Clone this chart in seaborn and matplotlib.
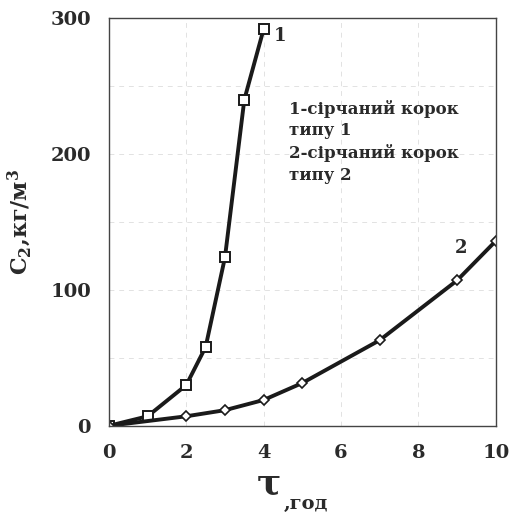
import pandas as pd
import matplotlib.pyplot as plt
import seaborn as sns

# Data
tau_1 = [0, 1, 2, 2.5, 3, 3.5, 4]
c2_1 = [0, 7, 30, 58, 124, 240, 292]

tau_2 = [0, 2, 3, 4, 5, 7, 9, 10]
c2_2 = [0, 7, 11.5, 19, 31.5, 63, 107, 136]

x_ticks = [0, 2, 4, 6, 8, 10]
y_ticks = [0, 100, 200, 300]

legend_text = "1-сірчаний корок\nтипу 1\n2-сірчаний корок\nтипу 2"

sns.set_style("white")
plt.rcParams['font.family'] = ['DejaVu Serif']
plt.rcParams['font.weight'] = 'bold'
plt.rcParams['mathtext.fontset'] = 'dejavuserif'
plt.rcParams['mathtext.default'] = 'bf'

df1 = pd.DataFrame({'tau': tau_1, 'c2': c2_1})
df2 = pd.DataFrame({'tau': tau_2, 'c2': c2_2})

fig = plt.figure(figsize=(5.09, 5.18), dpi=100)
ax = fig.add_axes([0.214, 0.178, 0.76, 0.787])

# faint dashed grid like the scan
for gx in [2, 4, 6, 8]:
    ax.axvline(gx, color='#e2e2e2', lw=0.7, ls=(0, (5, 5)), zorder=0)
for gy in [50, 100, 150, 200, 250]:
    ax.axhline(gy, color='#e2e2e2', lw=0.7, ls=(0, (5, 5)), zorder=0)

sns.lineplot(data=df1, x='tau', y='c2', ax=ax, sort=False, color='#1a1a1a',
             lw=2.8, marker='s', markersize=7, markerfacecolor='white',
             markeredgecolor='#1a1a1a', markeredgewidth=1.4)
sns.lineplot(data=df2, x='tau', y='c2', ax=ax, sort=False, color='#1a1a1a',
             lw=2.8, marker='D', markersize=5, markerfacecolor='white',
             markeredgecolor='#1a1a1a', markeredgewidth=1.2)

ax.set_xlim(0, 10)
ax.set_ylim(0, 300)
ax.set_xticks(x_ticks)
ax.set_yticks(y_ticks)
ax.tick_params(length=0, labelsize=14, pad=13)
for lab in ax.get_xticklabels() + ax.get_yticklabels():
    lab.set_fontweight('bold')
    lab.set_color('#2a2a2a')

for sp in ax.spines.values():
    sp.set_color('#444444')
    sp.set_linewidth(1.0)

ax.set_xlabel('')
ax.set_ylabel('')

# curve labels
ax.text(4.25, 283, '1', fontsize=13, fontweight='bold', color='#2a2a2a')
ax.text(8.95, 127, '2', fontsize=13, fontweight='bold', color='#2a2a2a')

ax.text(4.65, 240, legend_text, fontsize=12, fontweight='bold', color='#2a2a2a',
        va='top', ha='left', linespacing=1.35)

# axis titles
fig.text(0.038, 0.571, 'C$_2$,кг/м$^3$', rotation=90, fontsize=16,
         fontweight='bold', color='#2a2a2a', ha='center', va='center')
fig.text(0.553, 0.048, 'τ', fontsize=26, color='#2a2a2a', ha='right', va='baseline')
fig.text(0.557, 0.018, ',год', fontsize=14, fontweight='bold', color='#2a2a2a',
         ha='left', va='baseline')

fig.savefig('out.png', dpi=100, facecolor='white')
